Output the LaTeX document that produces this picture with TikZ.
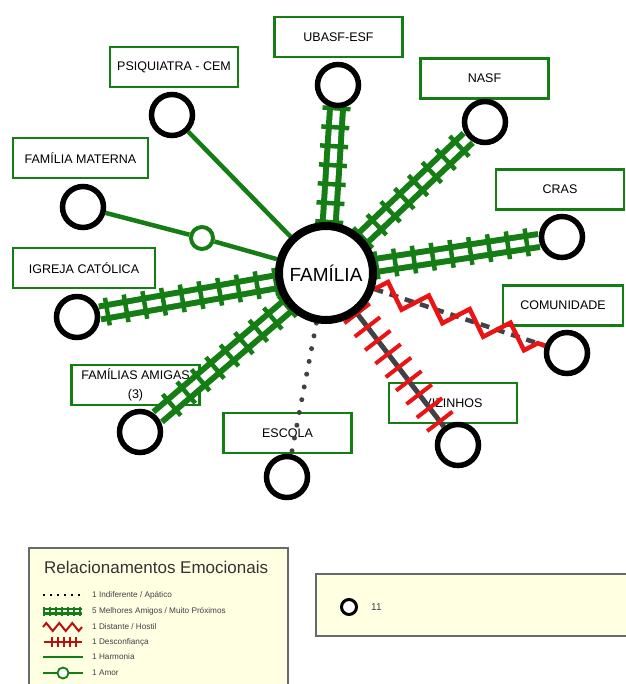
\documentclass[tikz,border=0pt]{standalone}
\usepackage{fontspec}
\setmainfont{Liberation Sans}
\usetikzlibrary{decorations.pathreplacing,decorations.pathmorphing}
\definecolor{grn}{RGB}{20,125,20}
\definecolor{hred}{RGB}{235,20,20}
\definecolor{dgray}{RGB}{65,65,70}
\definecolor{lyel}{RGB}{255,255,226}
\definecolor{lgray}{RGB}{105,105,105}
\pgfdeclarelayer{back}
\pgfdeclarelayer{mid}
\pgfsetlayers{back,mid,main}

\begin{document}
\begin{tikzpicture}[x=1pt,y=-1pt,
	ring/.style={circle,draw=black,line width=5.5pt,fill=white,minimum size=41pt,inner sep=0pt},
	center/.style={circle,draw=black,line width=8pt,fill=white,minimum size=94pt,inner sep=0pt,font=\fontsize{19}{21}\selectfont},
	lbl/.style={draw=grn,line width=2.5pt,fill=white,minimum width=128pt,minimum height=40pt,inner sep=0pt,align=center,font=\fontsize{12.5}{19}\selectfont},
	love/.style={circle,draw=grn,line width=4pt,fill=white,minimum size=22pt,inner sep=0pt},
	harmony/.style={draw=grn,line width=4.5pt},
	strong/.style={postaction={draw=grn,line width=19pt},postaction={draw=white,line width=7pt},
		postaction={draw=grn,line width=4.5pt,decorate,decoration={ticks,segment length=19pt,amplitude=14pt}}},
	distrust/.style={postaction={draw=dgray,line width=5pt},
		postaction={draw=hred,line width=4pt,decorate,decoration={ticks,segment length=17pt,amplitude=16pt}}},
	hostile/.style={postaction={draw=dgray,line width=4.5pt,dash pattern=on 9pt off 7pt},
		postaction={draw=hred,line width=4.5pt,solid,decorate,decoration={zigzag,segment length=43pt,amplitude=11pt}}},
	indiff/.style={draw=dgray,line width=5pt,line cap=round,dash pattern=on 0pt off 13pt},
	keytxt/.style={anchor=west,inner sep=0pt,text=dgray,font=\fontsize{8.2}{9}\selectfont}]
	\useasboundingbox (0,0) rectangle (625,684);

	% label boxes
	\begin{pgfonlayer}{back}
	\node[lbl] (lubs) at (338.5,37) {UBASF-ESF};
	\node[lbl] (lnasf) at (484.5,78.5) {NASF};
	\node[lbl] (lpsi) at (174,67) {PSIQUIATRA - CEM};
	\node[lbl,minimum width=135pt] (lmat) at (80.5,158) {FAMÍLIA MATERNA};
	\node[lbl] (lcras) at (560,189.5) {CRAS};
	\node[lbl,minimum width=142pt] (ligr) at (84,268) {IGREJA CATÓLICA};
	\node[lbl,minimum width=120pt] (lcom) at (563,305.5) {COMUNIDADE};
	\node[lbl] (lami) at (135.5,385) {FAMÍLIAS AMIGAS\\(3)};
	\node[lbl] (lviz) at (453,403) {VIZINHOS};
	\node[lbl] (lesc) at (287.5,433) {ESCOLA};
	\end{pgfonlayer}

	% members
	\node[center] (fam) at (326,273) {FAMÍLIA};
	\node[ring] (ubs) at (338,85) {};
	\node[ring] (nasf) at (485,122) {};
	\node[ring] (psi) at (172,115) {};
	\node[ring] (mat) at (83,207) {};
	\node[ring] (cras) at (562,237) {};
	\node[ring] (igr) at (77,317) {};
	\node[ring] (com) at (567,353) {};
	\node[ring] (ami) at (140,432) {};
	\node[ring] (viz) at (458,445) {};
	\node[ring] (esc) at (287,477) {};
	\node[love] (amor) at (202,238) {};

	% relations
	\begin{pgfonlayer}{mid}
	\path[strong] (fam) -- (ubs);
	\path[strong] (fam) -- (nasf);
	\path[strong] (fam) -- (cras);
	\path[strong] (fam) -- (igr);
	\path[strong] (fam) -- (ami);
	\draw[harmony] (fam) -- (psi);
	\draw[harmony] (fam) -- (amor) -- (mat);
	\path[hostile] (fam) -- (com);
	\path[distrust] (fam) -- (viz);
	\draw[indiff] (fam) -- (esc);
	\end{pgfonlayer}

	% legend
	\draw[draw=lgray,fill=lyel,line width=1.5pt] (29,548) rectangle (288,692);
	\node[anchor=west,inner sep=0pt,text=black!80,font=\fontsize{17}{19}\selectfont] (title) at (44,567) {Relacionamentos Emocionais};
	\draw[black,line width=2pt,dash pattern=on 2pt off 5pt] (43,595) -- (83,595);
	\path[postaction={draw=grn,line width=7pt},postaction={draw=white,line width=2pt},
		postaction={draw=grn,line width=1.8pt,decorate,decoration={ticks,segment length=6pt,amplitude=4.5pt}}] (44,611) -- (82,611);
	\draw[hred!80!black,line width=2pt,decorate,decoration={zigzag,segment length=13pt,amplitude=4pt}] (43,627) -- (82,627);
	\draw[hred!80!black,line width=1.5pt] (44,642) -- (82,642);
	\draw[hred!80!black,line width=1.5pt,decorate,decoration={ticks,segment length=6pt,amplitude=5pt}] (52,642) -- (82,642);
	\draw[grn,line width=2pt] (43,657) -- (83,657);
	\draw[grn,line width=2pt] (43,673) -- (83,673);
	\node[circle,draw=grn,line width=1.8pt,fill=white,minimum size=11pt,inner sep=0pt] (kamor) at (63,673) {};
	\node[keytxt] (k1) at (92,595) {1 Indiferente / Apático};
	\node[keytxt] (k2) at (92,611) {5 Melhores Amigos / Muito Próximos};
	\node[keytxt] (k3) at (92,627) {1 Distante / Hostil};
	\node[keytxt] (k4) at (92,642) {1 Desconfiança};
	\node[keytxt] (k5) at (92,657) {1 Harmonia};
	\node[keytxt] (k6) at (92,673) {1 Amor};

	\draw[draw=lgray,fill=lyel,line width=1.5pt] (316,574) rectangle (632,636);
	\node[circle,draw=black,line width=3pt,fill=white,minimum size=15pt,inner sep=0pt] (kring) at (349,607) {};
	\node[keytxt,font=\fontsize{10}{11}\selectfont] (kcount) at (371,607) {11};
\end{tikzpicture}
\end{document}
